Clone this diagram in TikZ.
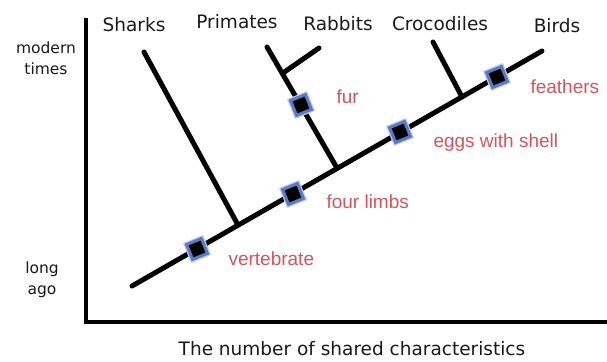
\documentclass[tikz,border=0pt]{standalone}
\usepackage{fontspec}
\setmainfont{DejaVu Sans}
\newfontfamily\traitfont{Liberation Sans}
\definecolor{traitred}{RGB}{214,82,92}
\definecolor{boxblue}{RGB}{92,122,192}

\begin{document}
\begin{tikzpicture}[x=1pt, y=-1pt,
    branch/.style={line width=5pt, line cap=round},
    axisline/.style={line width=3.4pt},
    taxon/.style={anchor=base, text=black!90, font=\fontsize{18.5}{22}\selectfont},
    trait/.style={anchor=base west, text=traitred, font=\traitfont\fontsize{19}{22}\selectfont},
    timelabel/.style={align=center, text=black!90, font=\fontsize{15.5}{21}\selectfont},
    traitbox/.style={rectangle, fill=black, draw=boxblue, line width=3pt,
        minimum size=16pt, inner sep=0pt, rotate=22,
        preaction={draw=boxblue!40, line width=5.5pt}}]
    \useasboundingbox (0,0) rectangle (607,361);

    % Axes
    \coordinate (axistop) at (86,18);
    \coordinate (axiscorner) at (86,322);
    \coordinate (axisend) at (610,322);
    \draw[axisline] (axistop) -- (axiscorner) -- (axisend);
    \node[timelabel] (modern) at (46,58) {modern\\times};
    \node[timelabel] (longago) at (42,280) {long\\ago};
    \node[taxon] (xlabel) at (352,355) {The number of shared characteristics};

    % Tree: main line and branch points
    \coordinate (root) at (132,286);
    \coordinate (tip) at (542,51);
    \coordinate (sharkjoin) at (238,225);
    \coordinate (primatejoin) at (337,168);
    \coordinate (crocjoin) at (462,97);
    \coordinate (sharktip) at (144,52);
    \coordinate (primatetip) at (267,47);
    \coordinate (rabbitjoin) at (283,73);
    \coordinate (rabbittip) at (319,48);
    \coordinate (croctip) at (433,42);

    \draw[branch] (root) -- (tip);
    \draw[branch] (sharkjoin) -- (sharktip);
    \draw[branch] (primatejoin) -- (primatetip);
    \draw[branch] (rabbitjoin) -- (rabbittip);
    \draw[branch] (crocjoin) -- (croctip);

    % Groups at the top
    \node[taxon] (sharks) at (134,32) {Sharks};
    \node[taxon] (primates) at (237,29) {Primates};
    \node[taxon] (rabbits) at (338,31) {Rabbits};
    \node[taxon] (crocodiles) at (440,31) {Crocodiles};
    \node[taxon] (birds) at (557,33) {Birds};

    % Shared characteristics
    \node[traitbox] (vertebratebox) at (197,249) {};
    \node[traitbox] (limbsbox) at (293,194) {};
    \node[traitbox] (furbox) at (301,105) {};
    \node[traitbox] (eggsbox) at (400,132) {};
    \node[traitbox] (feathersbox) at (497,77) {};

    \node[trait] (vertebrate) at (225,265) {vertebrate};
    \node[trait] (limbs) at (323,208) {four limbs};
    \node[trait] (fur) at (333,103) {fur};
    \node[trait] (eggs) at (430,147) {eggs with shell};
    \node[trait] (feathers) at (527,93) {feathers};
\end{tikzpicture}
\end{document}
